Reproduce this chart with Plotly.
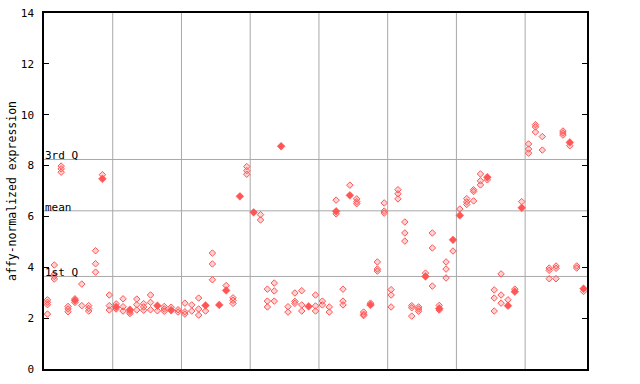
import plotly.graph_objects as go

# values per sample (index 0..78); "open" = light diamonds, "filled" = solid diamonds
open_vals = [
    [2.72, 2.62, 2.53, 2.16], [4.09, 3.73, 3.64, 3.54], [7.98, 7.87, 7.74], [2.46, 2.36, 2.25],
    [2.76, 2.62], [3.34, 2.49], [2.49, 2.38, 2.28], [4.65, 4.14, 3.81],
    [7.64], [2.91, 2.49, 2.32], [2.56, 2.36], [2.76, 2.45, 2.28],
    [2.24, 2.18], [2.75, 2.53, 2.32], [2.57, 2.44, 2.31], [2.91, 2.62, 2.33],
    [2.29], [2.46, 2.36, 2.27], [2.43], [2.33, 2.24],
    [2.59, 2.25, 2.16], [2.52, 2.28], [2.79, 2.36, 2.12], [2.28],
    [4.56, 4.13, 3.51], [], [3.28], [2.80, 2.70, 2.58],
    [], [7.96, 7.80, 7.66], [], [6.07, 5.86],
    [3.14, 2.67, 2.44], [3.38, 3.07, 2.67], [], [2.45, 2.24],
    [2.99, 2.66, 2.58], [3.08, 2.52, 2.28], [], [2.91, 2.48, 2.28],
    [2.67, 2.52], [2.44, 2.24], [6.64, 6.10], [3.14, 2.67, 2.52],
    [7.23], [6.69, 6.58, 6.50], [2.24, 2.15, 2.10], [2.59],
    [4.21, 3.93, 3.85], [6.53, 6.21, 6.13], [3.12, 2.91, 2.44], [7.05, 6.89, 6.69],
    [5.78, 5.35, 5.03], [2.49, 2.41, 2.08], [2.44, 2.36, 2.27], [3.77],
    [5.35, 4.76, 3.26], [2.50, 2.32], [4.21, 3.93, 3.58], [4.64],
    [6.29], [6.70, 6.57, 6.47], [7.05, 6.98, 6.61], [7.67, 7.40, 7.24],
    [7.44], [3.11, 2.79, 2.28], [3.74, 2.91, 2.59], [2.72],
    [3.14], [6.58], [8.85, 8.65, 8.49], [9.61, 9.52, 9.32],
    [9.14, 8.61], [3.97, 3.88, 3.55], [4.05, 3.96, 3.55], [9.36, 9.28, 9.20],
    [8.78], [4.05, 3.97], [3.05],
]
filled_vals = {
    4: [2.70], 8: [7.48], 10: [2.44], 12: [2.33], 16: [2.49], 18: [2.31], 23: [2.50],
    25: [2.52], 26: [3.09], 28: [6.79], 30: [6.16], 34: [8.76], 38: [2.46], 42: [6.20],
    44: [6.83], 47: [2.52], 55: [3.64], 57: [2.38], 59: [5.08], 60: [6.04], 64: [7.54],
    67: [2.49], 68: [3.04], 69: [6.34], 76: [8.91], 78: [3.16],
}
q_lines = {"3rd Q": 8.24, "mean": 6.22, "1st Q": 3.64}
y_ticks = [0, 2, 4, 6, 8, 10, 12, 14]
group_size = 10

n = len(open_vals)
ox, oy = [], []
for i, vs in enumerate(open_vals):
    for v in vs:
        ox.append(i); oy.append(v)
fx, fy = [], []
for i, vs in filled_vals.items():
    for v in vs:
        fx.append(i); fy.append(v)

RED = "#ff5555"
fig = go.Figure()
fig.add_trace(go.Scatter(x=ox, y=oy, mode="markers", hoverinfo="skip",
                         marker=dict(symbol="diamond", size=5, color="rgba(255,110,110,0.3)",
                                     line=dict(color=RED, width=1))))
fig.add_trace(go.Scatter(x=fx, y=fy, mode="markers", hoverinfo="skip",
                         marker=dict(symbol="diamond", size=6, color=RED,
                                     line=dict(color=RED, width=0.5))))

GRID = "#a8a8a8"
for g in range(group_size, n, group_size):
    fig.add_shape(type="line", xref="x", yref="paper", x0=g - 0.5, x1=g - 0.5, y0=0, y1=1,
                  line=dict(color=GRID, width=1), layer="below")
for lab, v in q_lines.items():
    fig.add_shape(type="line", xref="paper", yref="y", x0=0, x1=1, y0=v, y1=v,
                  line=dict(color=GRID, width=1), layer="below")
    fig.add_annotation(xref="paper", yref="y", x=0, y=v, text=lab, showarrow=False,
                       xanchor="left", yanchor="bottom", xshift=-1, yshift=-5,
                       font=dict(family="DejaVu Sans Mono", size=11, color="black"))

fig.add_annotation(xref="paper", yref="paper", x=-32 / 543, y=0.5, text="affy-normalized expression",
                   textangle=-90, showarrow=False, xanchor="center", yanchor="middle",
                   font=dict(family="DejaVu Sans Mono", size=11.5, color="black"))

fig.update_layout(
    width=640, height=384, showlegend=False,
    margin=dict(l=44, r=53, t=13, b=15, autoexpand=False),
    paper_bgcolor="white", plot_bgcolor="white",
    xaxis=dict(range=[-0.5, n - 0.5], showgrid=False, zeroline=False, showticklabels=False,
               ticks="", showline=True, linecolor="black", linewidth=1.5, mirror=True,
               automargin=False),
    yaxis=dict(range=[0, 14], tickvals=y_ticks, showgrid=False, zeroline=False,
               ticks="inside", ticklen=5, tickcolor="black", showline=True, linecolor="black",
               linewidth=1.5, mirror="ticks", ticklabelstandoff=6, automargin=False,
               tickfont=dict(family="DejaVu Sans Mono", size=11, color="black")),
)
fig.write_html("out.html")
